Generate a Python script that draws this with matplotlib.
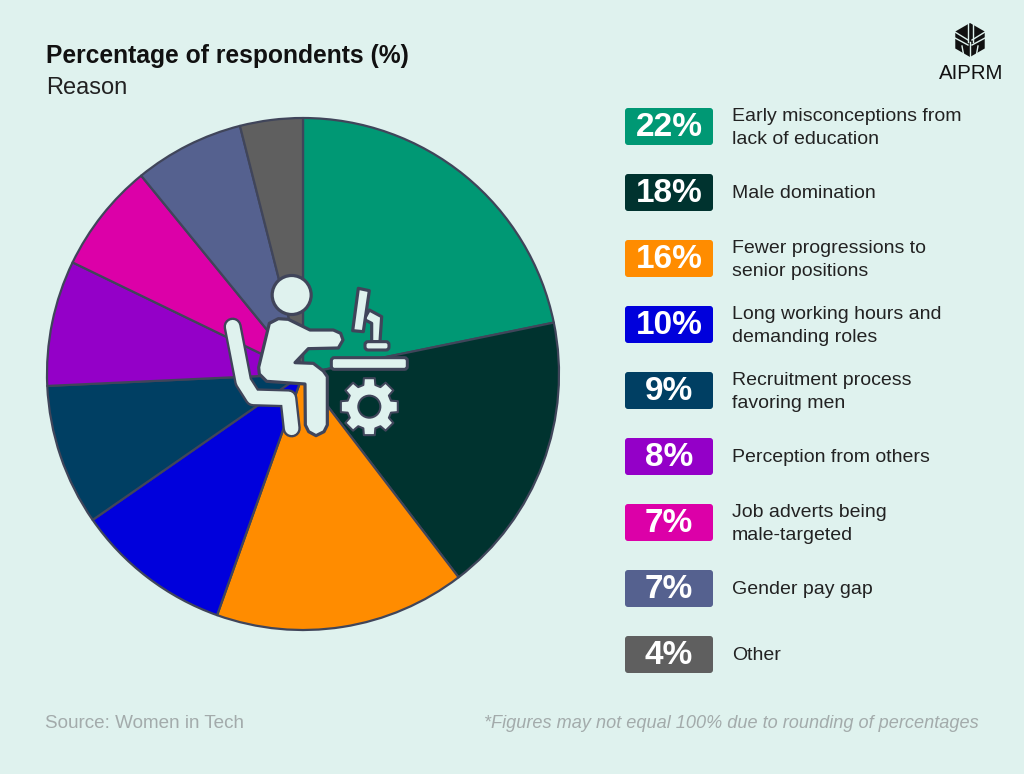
import numpy as np
import matplotlib
matplotlib.use("Agg")
import matplotlib.pyplot as plt
from matplotlib.patches import FancyBboxPatch, Polygon, Circle

values = [22, 18, 16, 10, 9, 8, 7, 7, 4]
pct_labels = ["22%", "18%", "16%", "10%", "9%", "8%", "7%", "7%", "4%"]
reasons = [
    "Early misconceptions from\nlack of education",
    "Male domination",
    "Fewer progressions to\nsenior positions",
    "Long working hours and\ndemanding roles",
    "Recruitment process\nfavoring men",
    "Perception from others",
    "Job adverts being\nmale-targeted",
    "Gender pay gap",
    "Other",
]
colors = ["#009874", "#00332F", "#FF8C00", "#0000DC", "#003F63",
          "#9400C8", "#DC00A8", "#55618F", "#5F5F5F"]

BG = "#DFF2EE"
EDGE = "#40455A"
W, H = 1024, 774
plt.rcParams["font.family"] = ["Liberation Sans", "DejaVu Sans"]

fig = plt.figure(figsize=(W / 100, H / 100), dpi=100, facecolor=BG)
ax = fig.add_axes([0, 0, 1, 1])
ax.set_facecolor(BG)


def Y(y):
    return H - y


ax.pie(values, colors=colors, startangle=90, counterclock=False,
       center=(303, Y(374)), radius=256,
       wedgeprops=dict(edgecolor=EDGE, linewidth=1.6, joinstyle="round"))
ax.set_xlim(0, W)
ax.set_ylim(0, H)
ax.set_aspect("equal")
ax.axis("off")


def z(pts):
    """Icon points given in the zoomed crop frame -> figure pixels."""
    return [(210 + x / 3, Y(260 + y / 3)) for x, y in pts]


def icon_poly(pts, fc=BG, lw=2.3, zo=5):
    ax.add_patch(Polygon(z(pts), closed=True, fc=fc, ec=EDGE, lw=lw,
                         joinstyle="round", zorder=zo))


def icon_line(pts, width, zo=5):
    xy = np.array(z(pts))
    wpt = width * 0.72
    ax.plot(xy[:, 0], xy[:, 1], color=EDGE, lw=wpt + 3.4, solid_capstyle="round",
            solid_joinstyle="round", zorder=zo)
    ax.plot(xy[:, 0], xy[:, 1], color=BG, lw=wpt, solid_capstyle="round",
            solid_joinstyle="round", zorder=zo + 0.1)


# chair
icon_line([(68, 200), (100, 365), (130, 412), (235, 415), (245, 505)], 13.5)
# body
icon_poly([(178, 190), (205, 176), (235, 178), (300, 210), (370, 210), (392, 220),
           (399, 240), (385, 264), (295, 266), (255, 308), (310, 310), (340, 333),
           (352, 350), (352, 495), (342, 515), (318, 527), (296, 515), (286, 495),
           (285, 372), (170, 364), (148, 342), (146, 322)], zo=6)
# head
hx, hy = z([(245, 105)])[0]
ax.add_patch(Circle((hx, hy), 19.5, fc=BG, ec=EDGE, lw=2.3, zorder=6))
# monitor
icon_poly([(478, 150), (515, 170), (510, 245), (485, 245), (485, 190), (462, 178)], zo=4.9)
icon_poly([(445, 85), (478, 92), (460, 215), (428, 212)])
# stand base and desk
for (x0, y0, x1, y1) in [(465, 245, 537, 270), (364, 293, 592, 328)]:
    (a, b), (c, d) = z([(x0, y1), (x1, y0)])
    ax.add_patch(FancyBboxPatch((a + 3, b + 3), c - a - 6, d - b - 6,
                                boxstyle="round,pad=3", fc=BG, ec=EDGE, lw=2.2, zorder=5))
# gear
gx, gy = z([(478, 440)])[0]
n = 8
ang, rad = [], []
for i in range(n):
    c = 2 * np.pi * i / n + np.pi / 2
    for da, r in [(-0.27, 22.5), (-0.19, 29), (0.19, 29), (0.27, 22.5)]:
        ang.append(c + da)
        rad.append(r)
gear = [(gx + r * np.cos(t), gy + r * np.sin(t)) for t, r in zip(ang, rad)]
ax.add_patch(Polygon(gear, closed=True, fc=BG, ec=EDGE, lw=1.5, joinstyle="round", zorder=5))
ax.add_patch(Circle((gx, gy), 11, fc=colors[1], ec=EDGE, lw=1.5, zorder=5.1))

# title
ax.text(46, Y(56.5), "Percentage of respondents (%)", fontsize=17.75, fontweight="bold",
        color="#111111", va="center", ha="left")
ax.text(46, Y(88), "Reason", fontsize=17, color="#222222", va="center", ha="left")

# legend
for i, (col, p, r) in enumerate(zip(colors, pct_labels, reasons)):
    cy = 126.5 + 66 * i
    ax.add_patch(FancyBboxPatch((628, Y(cy) - 15.5), 82, 31, boxstyle="round,pad=3,rounding_size=3",
                                fc=col, ec="none", zorder=3))
    ax.text(669, Y(cy + 1.5), p, color="white", fontsize=24, fontweight="bold",
            ha="center", va="center", zorder=4)
    ax.text(732, Y(cy + 1.5), r, color="#222222", fontsize=14, ha="left", va="center",
            linespacing=1.46, zorder=4)

# footer
ax.text(45, Y(723), "Source: Women in Tech", fontsize=13.6, color="#A3ABAB", va="center")
ax.text(979, Y(723), "*Figures may not equal 100% due to rounding of percentages",
        fontsize=13.1, style="italic", color="#A3ABAB", va="center", ha="right")

# logo
lx, ly, s = 970, 40, 17
hexa = [(lx + s * np.sin(a), Y(ly) + s * np.cos(a)) for a in np.arange(6) * np.pi / 3]
ax.add_patch(Polygon(hexa, closed=True, fc="#111111", ec="none", zorder=3))
for (x0, y0, x1, y1) in [(-2.5, -17, -2.5, 2), (2.5, -17, 2.5, 2), (-15, -8, -2, 0), (15, -8, 2, 0),
                         (-15, -2, -2, 5), (15, -2, 2, 5), (0, 2, 0, 17), (-6, 17, -8, 6), (6, 17, 8, 6)]:
    ax.plot([lx + x0, lx + x1], [Y(ly + y0), Y(ly + y1)], color=BG, lw=1.0, zorder=4)
ax.text(971, Y(73.5), "AIPRM", fontsize=14.7, color="#111111", ha="center", va="center")

fig.savefig("out.png", dpi=100, facecolor=BG)
